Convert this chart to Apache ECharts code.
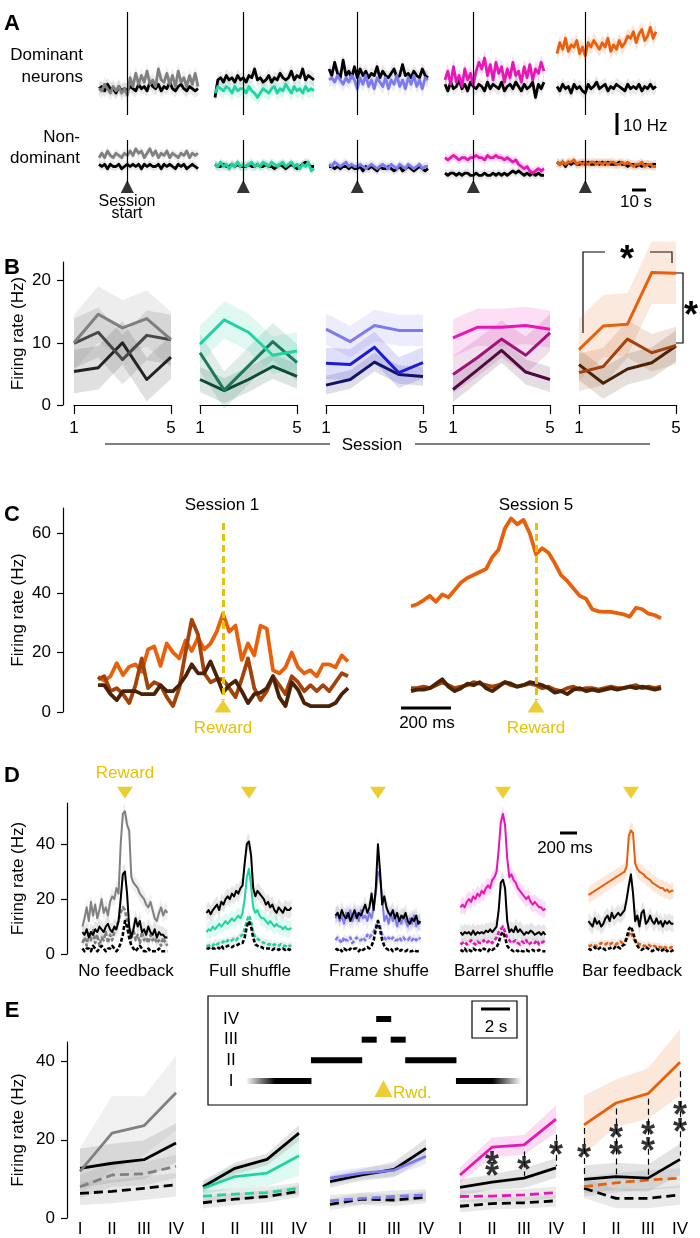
<!DOCTYPE html>
<html>
<head>
<meta charset="utf-8">
<title>Firing rates</title>
<script src="https://cdn.jsdelivr.net/npm/echarts@6/dist/echarts.min.js"></script>
<style>
  html, body { margin: 0; padding: 0; background: #fff; }
  #main { width: 700px; height: 1238px; }
</style>
</head>
<body>
<div id="main"></div>
<script>
// ---------------- data ----------------
// A: traces aligned on session start (s)
var tA = [-20,-18,-16,-14,-12,-10,-8,-6,-4,-2,0,2,4,6,8,10,12,14,16,18,20,22,24,26,28,30,32,34,36,38,40,42,44,46,48,50];
var domColored = [
  [12,11,14,12,10,13,11,13,10,12, 9,17,13,19,14,18,15,20,14,16, 13,21,16,15,19,14,18,13,20,15, 17,13,18,14,19,13],
  [10,13,12,11,13,12,10,13,11,12, 12,10,13,11,10,8,10,12,11,10, 12,13,10,12,11,14,12,10,13,11, 12,10,13,11,12,11],
  [16,17,15,18,16,14,17,15,18,16, 12,17,14,18,13,16,12,17,15,13, 17,12,16,14,18,13,16,12,17,14, 18,13,16,12,17,16],
  [16,20,14,22,15,18,13,21,16,19, 14,20,24,21,26,18,23,16,24,19, 22,15,21,17,24,18,20,15,22,17, 23,16,21,19,24,20],
  [28,33,30,35,29,32,31,34,28,31, 27,33,31,34,32,30,33,31,35,29, 32,30,34,31,33,36,35,38,33,37, 39,34,36,40,35,38]
];
var domBlack = [
  [12,13,11,14,12,12,10,13,11,12, 11,13,12,11,14,12,13,11,15,13, 12,14,11,13,12,15,12,11,13,14, 12,11,13,12,11,12],
  [8,16,17,15,18,16,17,15,18,16, 17,15,18,17,21,16,17,15,16,18, 15,17,16,19,17,16,17,20,16,18, 17,21,16,18,17,16],
  [21,18,24,19,17,25,18,20,17,22, 17,21,18,20,17,19,18,22,17,20, 18,17,19,21,17,18,23,18,19,17, 20,18,17,21,18,17],
  [14,11,15,12,13,16,12,14,11,15, 13,12,14,13,11,15,12,14,13,12, 15,11,13,14,12,15,13,11,14,12, 13,15,8,14,12,15],
  [13,11,14,12,13,10,14,12,13,11, 10,14,12,13,15,12,13,14,11,13, 12,14,13,12,11,14,12,13,12,14, 11,13,12,14,12,13]
];
var nonColored = [
  [10,12,10,13,11,10,12,11,10,12, 11,13,11,14,12,13,10,12,14,11, 13,10,12,11,13,10,12,11,10,12, 11,13,10,12,11,12],
  [7,6,8,6,7,5,7,6,8,6, 7,6,7,8,6,7,6,8,7,6, 8,7,6,7,8,6,7,8,6,7, 5,7,6,8,4,5],
  [7,6,8,7,6,7,8,6,7,6, 6,7,6,5,6,7,6,5,6,7, 6,5,7,6,5,7,6,5,7,6, 5,6,7,5,6,6],
  [10,9,10,11,10,9,10,10,9,10, 10,11,10,10,9,11,10,10,11,10, 10,9,10,9,8,9,7,6,5,6, 4,3,4,5,4,5],
  [8,7,8,7,8,8,9,7,8,7, 8,7,8,8,7,8,7,8,7,8, 8,7,7,8,7,8,7,6,7,7, 8,6,7,7,6,6]
];
var nonBlack = [
  [7,6,7,5,7,6,6,7,5,6, 7,6,7,6,7,5,7,6,7,6, 6,7,5,7,6,7,6,5,7,6, 7,5,6,7,6,5],
  [7,6,6,7,6,6,7,6,7,6, 6,6,7,6,6,7,6,6,7,6, 6,5,6,7,6,5,6,7,6,5, 6,7,8,7,6,6],
  [6,6,5,6,5,6,6,5,6,5, 5,6,4,6,5,6,5,4,6,5, 5,6,5,4,5,6,4,5,6,5, 4,5,6,5,4,5],
  [3,2,3,3,2,3,2,3,3,2, 2,3,2,2,3,2,2,3,2,3, 2,3,2,3,4,3,4,3,2,3, 2,3,2,3,2,2],
  [8,7,8,6,8,7,8,7,7,8, 7,8,7,7,8,7,8,7,8,7, 7,7,8,7,7,6,7,7,6,7, 6,7,7,6,7,7]
];

// B: mean rate per session, three neurons per group
var sessions = [1,2,3,4,5];
var sessTicks = [1,5];
var bTicks = [0,10,20];
var bLines = [
  [[10.0,14.6,12.4,13.9,10.5],[9.9,11.7,7.3,11.2,10.5],[5.4,6.0,10.0,4.1,7.7]],
  [[9.8,13.7,11.7,8.0,8.7],[8.4,2.4,6.3,10.2,6.8],[4.1,2.3,4.1,6.2,4.6]],
  [[12.2,10.2,12.8,12.0,12.0],[6.7,6.5,9.3,5.2,6.8],[3.2,4.1,6.9,4.9,4.6]],
  [[10.8,12.5,12.5,12.8,12.2],[4.9,7.6,10.6,8.0,11.6],[2.5,5.6,8.8,5.3,4.1]],
  [[8.9,12.7,13.0,21.3,21.2],[5.2,6.2,10.6,8.4,9.6],[6.5,3.5,5.8,6.8,9.5]]
];
var bSem = [[4.5,4,3.5],[3,3,2],[2.5,2.5,1.5],[3,3,2],[5,3,2.5]];

// C: reward-aligned rates (ms)
var tC = [-500,-475,-450,-425,-400,-375,-350,-325,-300,-275,-250,-225,-200,-175,-150,-125,-100,-75,-50,-25,0,25,50,75,100,125,150,175,200,225,250,275,300,325,350,375,400,425,450,475,500];
var cTicks = [0,20,40,60];
var c1Orange = [11.8,10.5,12,16.4,12.4,15.2,16,13.5,21,22, 15.5,23,20,18,24,20.5,25,21,23,27, 33,27,29,17.5,23,19,29,28,14,13, 15,20,15,13,14,12,16,16,15,19, 17];
var c1Brown  = [11,12,7,8,6,3,9,18,8,10, 9,5,2,8,20,31,26,13,10,11, 11,8,5,11,18,8,4,7,12,9, 6,12,10,7,9,7,9,7,10,13, 12];
var c1Dark   = [9,9,6,4,7,7,7,6,6,6, 9,7,7,9,12,16,13,13,17,12, 6.5,9,10.5,7,3,6,6.5,8,12,5, 2,10,7.5,3,2,2,2,2,3,6, 8];
var c5Orange = [35.5,36.2,37.5,39,37,39.5,38.5,41,43.5,45, 46,47,48,52,54.5,61.5,65,63,64.5,60, 53,55,53.5,50,46,44,41.5,39,38,34.5, 33.8,33.6,33.6,33.2,32.8,32,35,34.5,33,32.5, 31.5];
var c5Brown  = [8,8,8.5,8,9,10,9,8,8.5,9, 10,9.5,9,8.5,9,10,9,8.5,9,9.5, 9,8,8.5,7.5,7,8,8.5,7.5,8,8, 7.5,8,8.5,8,8,8.5,9,8,8.5,8, 8.5];
var c5Dark   = [7,7.5,7.5,8,9.5,11,8.5,7,8,9.5, 9,10,8,7,8.5,10,9.5,8.5,9,10, 9.5,9,8,6.5,7,6,7.5,8,7,7.5, 7,7.5,8,7.5,8,8.5,8,8.5,8,7.5, 8];

// D: reward-aligned rates per feedback condition (same time bins as C)
var dNames = ['No feedback','Full shuffle','Frame shuffe','Barrel shuffle','Bar feedback'];
var dTicks = [0,20,40];
var dSolidCol = [
  [10,13,17,12,19,14,18,13,16,20, 15,17,14,19,21,20,24,22,40,51, 52,47,45,28,26,25,24,22,21,20, 18,17,19,16,13,12,15,17,14,16, 15],
  [8,9,8.5,10,9,10,11,10,11,12, 11,12,13,12,13,14,13,15,20,28, 31,25,17,15,16,14,13,13,12,11, 12,11,10,11,10,10,9,10,9,9, 9.5],
  [13,15,12,14,11,15,13,16,12,14, 15,12,16,13,14,12,15,13,17,22, 30,28,20,12,14,11,15,12,14,10, 13,11,14,12,10,13,11,14,10,12, 11],
  [17,18,17,19,20,19,21,20,22,21, 23,22,24,25,24,27,28,30,38,48, 51,47,35,28,29,27,26,24,23,22, 21,20,21,19,18,19,18,17,17,16, 16.5],
  [21.5,22,22.5,23,23.5,24,24.5,25,25.5,26, 26.5,27,27.5,28,28.5,29,29.5,30,32,43, 45,44,33,31,30,29.5,29,28,27.5,27, 26,25.5,25,24.5,24,24,23,23.5,22.5,23, 23]
];
var dSolidBlack = [
  [8,7,9,6,8,7,9,8,10,9, 8,10,11,9,8,10,9,12,20,29, 30,22,10,6,9,13,10,12,8,9, 7,10,8,7,9,6,8,7,7,6, 6],
  [15,16,14.5,16,17,18,16,19,18,20, 21,20,22,21,23,22,24,25,33,40, 41,36,24,21,23,22,21,20,18,19, 17,18,16,15,17,16,15,17,16,16, 17],
  [14,15,13,16,14,13,15,12,14,16, 13,15,14,16,18,15,17,22,16,24, 40,30,18,21,17,15,14,16,13,15, 12,14,13,15,12,11,13,12,14,11, 12],
  [8,7,8,7.5,8,7,8.5,7,8,7.5, 8,7.5,8.5,8,9,8,9,10,16,26, 27,24,12,8,9,8,10,8,9,8, 7,8,7.5,8.5,8,7,7.5,8,7,8, 7],
  [12,11,10,13,11,12,10,11,13,14, 12,15,13,14,15,14,15,16,20,25, 29,22,12,14,10,15,16,11,12,14, 12,11,13,11,12,10,12,11,12,11, 11]
];
var dDashCol = [
  [4,6,3,8,5,9,4,7,3,6, 5,8,4,7,5,8,10,12,15,17, 16,12,8,6,9,5,7,4,8,5, 6,4,7,5,6,4,5,3,6,4, 3],
  [3,3,3.5,3,4,3.5,4,4,4.5,4, 5,4.5,5,5.5,5,6,6.5,7,9,12, 14,12,8,6,5.5,5,4.5,4,4,3.5, 3.5,3,3.5,3,3,3.5,3,3,2.5,3, 3],
  [5,6,5,4,6,5,5,6,4,5, 6,5,5,6,5,7,6,7,8,10, 12,10,7,6,5,6,5,6,5,5, 6,5,6,5,5,6,5,6,5,6, 5.5],
  [3.5,4,4.5,3.5,4,5,4,3.5,4.5,4, 4,5,4,4.5,5,4,5,6,8,9, 10,8,6,5,4,4.5,5,4,3.5,4.5, 4,5,3.5,4,4.5,4,5,3.5,4,4.5, 4],
  [3,3,3.5,3,3,3.5,4,3.5,3.5,4, 3.5,4,4,3.5,4,4.5,4,4.5,5.5,7, 8,6,4.5,4,3.5,3.5,3,3,3.5,3, 2.5,3,2.5,2.5,2.5,2,2.5,2,2,2.5, 2]
];
var dDashBlack = [
  [2,1,2,2,1,3,2,1,2,3, 2,1,2,2,3,2,1,2,4,7, 12,10,6,3,2,1,2,3,2,1, 1,2,1,1,1,1,2,1,1,1, 1],
  [2,2,2.5,2,2,2.5,2,3,2,2.5, 3,3,2.5,3,3,3.5,4,4,6,10, 12,10,6,3.5,3,2.5,2.5,2,2,2, 2,1.5,2,2,1.5,2,2,1.5,2,1.5, 2],
  [2,1.5,2,1,2,1.5,1,2,1.5,2, 2,1,2,1.5,2,2.5,2,3,5,9, 12,9,5,3,2,1.5,2,1,1.5,2, 1,1.5,1,1,1.5,1,1,1.5,1,1, 1],
  [1.5,1,2,1,1.5,1,2,1.5,1,1.5, 1,2,1.5,1,2,1.5,2,2.5,4,7, 8,6,3,2,1.5,1,1.5,1,1.5,1, 1,1.5,1,1,1.5,1,1,1.5,1,1, 1],
  [2,1.5,2,2.5,1.5,2,2.5,2,1.5,2, 2,2.5,2,3,2.5,2,3,3.5,6,9, 10,8,5,3,2,1.5,2,2.5,2,1.5, 1,1.5,2,1.5,1,1.5,2,1,1.5,1, 1.5]
];

// E: rate per epoch
var epochs = ['I','II','III','IV'];
var eTicks = [0,20,40];
var eSolidCol   = [[11.9,21.7,23.6,32],[7.6,10.6,11.5,15.9],[10.2,11.5,12.2,15.8],[11,18.1,18.7,25.3],[23.8,29.4,31.8,39.8]];
var eSolidBlack = [[12.7,14,14.9,19.2],[8,12.7,15,21.7],[9.3,11,12.4,17.8],[7.8,9.2,10.2,12.8],[9.9,10.6,10.2,15]];
var eDashCol    = [[8,11,11.3,13.2],[5.6,6.1,6.5,7.6],[4.4,5,5.5,5.9],[5.5,5.6,5.9,6.5],[8,9,9.7,10.2]];
var eDashBlack  = [[6.3,6.8,7.6,8.5],[3.9,4.8,5.5,6.8],[3.5,4.8,4.6,5.3],[3,3.7,3.9,4.4],[7.6,5,5,5.9]];
var eSemCol     = [[6,9.5,7.5,9.5],[1.5,3,3.5,5],[1.5,1.5,1.5,2],[2,2.5,2.5,3.5],[7.5,6,6.5,8.5]];
var eSemBlack   = [[5,5,5,5],[1.5,1.5,1.5,2],[1.5,1.5,2,2.5],[2,2,2.5,2.5],[3.5,3.5,3.5,4]];
var eSemDash    = [3,1.5,1.5,1.5,2.5];
// significance marks: [epoch index, top, bottom] and star positions
var sig4Lines = [[2,17,10.8],[3,21.3,13.2]];
var sig4Stars = [[1,15.4],[1,12.6],[2,14.1],[3,18]];
var sig5Lines = [[0,23,10.5],[1,28,11.2],[2,30.5,11],[3,37.5,16]];
var sig5Stars = [[0,17],[1,22.1],[1,17.9],[2,22.9],[2,19],[3,28.2],[3,23.8]];
// inset: epoch windows around reward (s)
var epochInner = [5, 1.5, 0.5, 0];
var epochOuter = [9.5, 5, 1.5, 0.5];

// ---------------- styles ----------------
var FONT = "'Liberation Sans', Arial, Helvetica, sans-serif";
var YEL = '#e6c200';
var colA = ['#808080', '#1ed4a2', '#7b7bef', '#e815b9', '#e8600c'];
var colB = [
  ['#7f7f7f', '#474747', '#232323'],
  ['#1ed4a2', '#1b7a5c', '#0c4a35'],
  ['#7b7bef', '#1c1cd6', '#12126e'],
  ['#e815b9', '#a0127c', '#4d0a3e'],
  ['#e8600c', '#a3420a', '#4a2306']
];
var axisBlack = { color: '#000', width: 1.2 };

var option = {
  animation: false,
  backgroundColor: '#fff',
  textStyle: { fontFamily: FONT },
  grid: [], xAxis: [], yAxis: [], series: [], graphic: []
};

function addGrid(rect, xa, ya) {
  var i = option.grid.length;
  rect.outerBoundsMode = 'none';
  option.grid.push(rect);
  xa.gridIndex = i;
  ya.gridIndex = i;
  option.xAxis.push(xa);
  option.yAxis.push(ya);
  return i;
}
function hiddenAxis(min, max) {
  return { type: 'value', min: min, max: max, show: false };
}
function shownY(min, max, ticks, offset, nameGap) {
  return {
    type: 'value', min: min, max: max, offset: offset,
    name: 'Firing rate (Hz)', nameLocation: 'middle', nameGap: nameGap,
    nameTextStyle: { fontSize: 17, color: '#000', fontFamily: FONT },
    axisLine: { show: true, onZero: false, lineStyle: axisBlack },
    axisTick: { show: true, length: 6, customValues: ticks, lineStyle: axisBlack },
    axisLabel: { customValues: ticks, fontSize: 17, color: '#000', margin: 12, fontFamily: FONT },
    splitLine: { show: false }
  };
}
function trace(gi, xs, ys, color, width, dash, z) {
  var data = xs ? xs.map(function (x, k) { return [x, ys[k]]; }) : ys;
  return {
    type: 'line', xAxisIndex: gi, yAxisIndex: gi, data: data, symbol: 'none', silent: true, z: z || 3,
    lineStyle: { color: color, width: width, type: dash || 'solid', join: 'round' }
  };
}
function band(gi, xs, ys, half, color, opacity) {
  var lo = [], hi = [];
  for (var k = 0; k < ys.length; k++) {
    var h = Array.isArray(half) ? half[k] : half;
    lo.push(ys[k] - h);
    hi.push(ys[k] + h);
  }
  return {
    type: 'custom', xAxisIndex: gi, yAxisIndex: gi, silent: true, z: 1, data: [[xs[0], ys[0]]],
    renderItem: function (params, api) {
      var pts = [];
      for (var i = 0; i < xs.length; i++) pts.push(api.coord([xs[i], hi[i]]));
      for (var j = xs.length - 1; j >= 0; j--) pts.push(api.coord([xs[j], lo[j]]));
      return { type: 'polygon', shape: { points: pts }, style: { fill: color, opacity: opacity } };
    }
  };
}
function marker(gi, pt, color, size, rotate) {
  return {
    type: 'scatter', xAxisIndex: gi, yAxisIndex: gi, data: [pt], symbol: 'triangle',
    symbolSize: size, symbolRotate: rotate || 0, itemStyle: { color: color }, silent: true, z: 6, clip: false
  };
}
function gText(s, x, y, extra) {
  var st = { text: s, fontSize: 17, fontFamily: FONT, fill: '#000', align: 'center', verticalAlign: 'middle' };
  for (var key in (extra || {})) st[key] = extra[key];
  option.graphic.push({ type: 'text', x: x, y: y, silent: true, style: st });
}
function gLine(x1, y1, x2, y2, w) {
  option.graphic.push({ type: 'line', silent: true, shape: { x1: x1, y1: y1, x2: x2, y2: y2 }, style: { stroke: '#000', lineWidth: w || 1.2 } });
}
function gPoly(pts, w) {
  option.graphic.push({ type: 'polyline', silent: true, shape: { points: pts }, style: { stroke: '#000', lineWidth: w || 1.2, fill: null } });
}

// ---------------- panel A ----------------
var aLeft = [99, 215, 329, 445, 557];
for (var p = 0; p < 5; p++) {
  var ga = addGrid({ left: aLeft[p], top: 12, width: 99, height: 103 }, hiddenAxis(-20, 50), hiddenAxis(0, 47));
  option.series.push(band(ga, tA, domBlack[p], 3, '#9a9a9a', 0.22));
  option.series.push(band(ga, tA, domColored[p], 3.5, p === 0 ? '#9a9a9a' : colA[p], 0.16));
  var sa = trace(ga, tA, domBlack[p], '#000', 2.8);
  sa.markLine = { silent: true, symbol: 'none', label: { show: false }, lineStyle: { color: '#000', width: 1.2, type: 'solid' }, data: [{ xAxis: 0 }] };
  option.series.push(sa);
  option.series.push(trace(ga, tA, domColored[p], colA[p], 2.8));

  var gn = addGrid({ left: aLeft[p], top: 140, width: 99, height: 53 }, hiddenAxis(-20, 50), hiddenAxis(-6, 18));
  option.series.push(band(gn, tA, nonBlack[p], 2, '#9a9a9a', 0.22));
  option.series.push(band(gn, tA, nonColored[p], 2, p === 0 ? '#9a9a9a' : colA[p], 0.16));
  var sn = trace(gn, tA, nonBlack[p], '#000', 2.8);
  sn.markLine = { silent: true, symbol: 'none', label: { show: false }, lineStyle: { color: '#000', width: 1.2, type: 'solid' },
    data: [[{ coord: [0, 18] }, { coord: [0, -1.5] }]] };
  option.series.push(sn);
  option.series.push(trace(gn, tA, nonColored[p], colA[p], 2.8));
  option.series.push(marker(gn, [0, -3], '#000', [13, 13]));
}

// ---------------- panel B ----------------
var bLeft = [74, 200, 326, 453, 579];
for (p = 0; p < 5; p++) {
  var gb = addGrid({ left: bLeft[p], top: 262, width: 97, height: 143 },
    {
      type: 'value', min: 1, max: 5,
      axisLine: { show: true, onZero: false, lineStyle: axisBlack },
      axisTick: { show: true, length: 9, customValues: sessTicks, lineStyle: axisBlack },
      axisLabel: { customValues: sessTicks, fontSize: 17, color: '#000', margin: 15, fontFamily: FONT },
      splitLine: { show: false }
    },
    p === 0 ? shownY(0, 23, bTicks, 11, 36) : hiddenAxis(0, 23));
  for (var l = 2; l >= 0; l--) {
    option.series.push(band(gb, sessions, bLines[p][l], bSem[p][l], colB[p][l], 0.14));
  }
  for (l = 2; l >= 0; l--) {
    option.series.push(trace(gb, sessions, bLines[p][l], colB[p][l], 3));
  }
}

// ---------------- panel C ----------------
var cLeft = [93, 406];
var cSets = [[c1Orange, c1Brown, c1Dark], [c5Orange, c5Brown, c5Dark]];
var cCols = ['#e8600c', '#a3420a', '#4a2306'];
for (p = 0; p < 2; p++) {
  var gc = addGrid({ left: cLeft[p], top: 508, width: 262, height: 204 }, hiddenAxis(-520, 528),
    p === 0 ? shownY(0, 68.5, cTicks, 30, 36) : hiddenAxis(0, 68.5));
  for (l = 0; l < 3; l++) {
    var sc = trace(gc, tC, cSets[p][l], cCols[l], 3.8, 'solid', 3 + l);
    if (l === 0) {
      sc.markLine = { silent: true, symbol: 'none', label: { show: false }, z: 8,
        lineStyle: { color: YEL, width: 3, type: [7, 4] },
        data: [[{ coord: [0, 63.5] }, { coord: [0, 4] }]] };
    }
    option.series.push(sc);
  }
  option.series.push(marker(gc, [0, 2], YEL, [17, 13]));
}

// ---------------- panel D ----------------
var dLeft = [82, 206, 335, 460, 588];
for (p = 0; p < 5; p++) {
  var gd = addGrid({ left: dLeft[p], top: 803, width: 88, height: 151 },
    {
      type: 'value', min: -505, max: 530,
      axisLine: { show: false }, axisTick: { show: false }, axisLabel: { show: false }, splitLine: { show: false },
      name: dNames[p], nameLocation: 'middle', nameGap: 9,
      nameTextStyle: { fontSize: 17, color: '#000', fontFamily: FONT }
    },
    p === 0 ? shownY(0, 55, dTicks, 15, 40) : hiddenAxis(0, 55));
  var cc = p === 0 ? '#808080' : colA[p];
  option.series.push(band(gd, tC, dSolidBlack[p], 3, '#9a9a9a', 0.25));
  option.series.push(band(gd, tC, dSolidCol[p], 3, p === 0 ? '#9a9a9a' : colA[p], 0.15));
  option.series.push(band(gd, tC, dDashCol[p], 1.5, '#9a9a9a', 0.18));
  option.series.push(trace(gd, tC, dDashCol[p], cc, 2.6, [4, 2], 3));
  option.series.push(trace(gd, tC, dDashBlack[p], '#000', 2.6, [4, 2], 4));
  option.series.push(trace(gd, tC, dSolidCol[p], cc, 2, 'solid', 5));
  option.series.push(trace(gd, tC, dSolidBlack[p], '#000', 2, 'solid', 5));
  option.series.push(marker(gd, [0, 58.7], YEL, [16, 12], 180));
}

// ---------------- panel E ----------------
var eLeft = [80, 203, 330, 460, 584];
var eIdx = [0, 1, 2, 3];
for (p = 0; p < 5; p++) {
  var ge = addGrid({ left: eLeft[p], top: 1042, width: 96, height: 176 },
    {
      type: 'category', data: epochs, boundaryGap: false,
      axisLine: { show: false }, axisTick: { show: false },
      axisLabel: { fontSize: 17, color: '#000', margin: 3, fontFamily: FONT }
    },
    p === 0 ? shownY(0, 45, eTicks, 13, 40) : hiddenAxis(0, 45));
  var ec = p === 0 ? '#808080' : colA[p];
  option.series.push(band(ge, eIdx, eSolidCol[p], eSemCol[p], p === 0 ? '#9a9a9a' : colA[p], 0.15));
  option.series.push(band(ge, eIdx, eSolidBlack[p], eSemBlack[p], '#9a9a9a', 0.28));
  option.series.push(band(ge, eIdx, eDashCol[p], eSemDash[p], '#9a9a9a', 0.22));
  option.series.push(band(ge, eIdx, eDashBlack[p], eSemDash[p], '#9a9a9a', 0.22));
  option.series.push(trace(ge, null, eDashBlack[p], '#000', 2.8, [9, 5], 3));
  option.series.push(trace(ge, null, eDashCol[p], ec, 2.8, [9, 5], 3));
  option.series.push(trace(ge, null, eSolidBlack[p], '#000', 2.8, 'solid', 4));
  option.series.push(trace(ge, null, eSolidCol[p], ec, 2.8, 'solid', 4));
  var sigL = p === 3 ? sig4Lines : (p === 4 ? sig5Lines : null);
  var sigS = p === 3 ? sig4Stars : (p === 4 ? sig5Stars : null);
  if (sigS) {
    option.series.push({
      type: 'scatter', xAxisIndex: ge, yAxisIndex: ge, silent: true, z: 7,
      data: sigS.map(function (s) { return [epochs[s[0]], s[1]]; }),
      symbolSize: 1, itemStyle: { color: 'rgba(0,0,0,0)' },
      label: { show: true, position: 'inside', formatter: '*', fontSize: 36, fontWeight: 'bold', color: '#000', offset: [0, 9], fontFamily: FONT },
      markLine: {
        silent: true, symbol: 'none', label: { show: false },
        lineStyle: { color: '#000', width: 1.2, type: [6, 4] },
        data: sigL.map(function (s) { return [{ coord: [epochs[s[0]], s[1]] }, { coord: [epochs[s[0]], s[2]] }]; })
      }
    });
  }
}

// inset with epoch windows
var gi = addGrid({ left: 208, top: 996, width: 319, height: 109, show: true, borderColor: '#000', borderWidth: 1.2, backgroundColor: '#fff' },
  hiddenAxis(-12.1, 9.9), hiddenAxis(-0.161, 5.113));
option.series.push({
  type: 'custom', xAxisIndex: gi, yAxisIndex: gi, silent: true, z: 4,
  data: epochs.map(function (n, k) { return [0, k + 1]; }),
  renderItem: function (params, api) {
    var k = params.dataIndex;
    var yc = api.coord([0, k + 1])[1];
    var h = 6;
    var kids = [];
    [[-epochOuter[k], -epochInner[k]], [epochInner[k], epochOuter[k]]].forEach(function (seg, side) {
      var x1 = api.coord([seg[0], 0])[0];
      var x2 = api.coord([seg[1], 0])[0];
      var fill = '#000';
      if (k === 0) {
        fill = new echarts.graphic.LinearGradient(0, 0, 1, 0, side === 0
          ? [{ offset: 0, color: 'rgba(0,0,0,0)' }, { offset: 0.45, color: '#000' }]
          : [{ offset: 0.55, color: '#000' }, { offset: 1, color: 'rgba(0,0,0,0)' }]);
      }
      kids.push({ type: 'rect', shape: { x: x1, y: yc - h / 2, width: x2 - x1 + 0.5, height: h }, style: { fill: fill } });
    });
    return { type: 'group', children: kids };
  }
});
option.series.push(marker(gi, [0, 0.64], YEL, [18, 17]));

// ---------------- text & annotations ----------------
var letters = [['A', 24], ['B', 268], ['C', 515], ['D', 776], ['E', 1011]];
letters.forEach(function (L) { gText(L[0], 12, L[1], { fontSize: 22, fontWeight: 'bold' }); });

// A
gText('Dominant', 83, 55, { align: 'right' });
gText('neurons', 83, 77, { align: 'right' });
gText('Non-', 80, 137, { align: 'right' });
gText('dominant', 80, 158, { align: 'right' });
gText('Session', 127, 202, { fontSize: 16 });
gText('start', 127, 214, { fontSize: 16 });
gLine(617, 113, 617, 135, 3);
gText('10 Hz', 623, 126, { align: 'left' });
gLine(632, 190, 646, 190, 3);
gText('10 s', 636, 202);

// B
gText('Session', 372, 445);
gLine(105, 444, 330, 444);
gLine(415, 444, 650, 444);
gPoly([[583, 333], [583, 252], [605, 252]]);
gPoly([[650, 252], [672, 252], [672, 263]]);
gText('*', 627, 261, { fontSize: 36, fontWeight: 'bold' });
gPoly([[676, 273], [683, 273], [683, 343], [676, 343]]);
gText('*', 691, 317, { fontSize: 36, fontWeight: 'bold' });

// C
gText('Session 1', 222, 505);
gText('Session 5', 536, 505);
gText('Reward', 223, 728, { fill: YEL });
gText('Reward', 536, 728, { fill: YEL });
gLine(401, 708, 451, 708, 3);
gText('200 ms', 427, 723);

// D
gText('Reward', 125, 773, { fill: YEL });
gLine(560, 833, 577, 833, 3);
gText('200 ms', 565, 848);

// E inset labels
gText('IV', 231, 1019);
gText('III', 231, 1039);
gText('II', 231, 1060);
gText('I', 231, 1081);
gText('Rwd.', 393, 1093, { fill: YEL, align: 'left' });
option.graphic.push({ type: 'rect', silent: true, shape: { x: 472, y: 1001, width: 45, height: 37 }, style: { stroke: '#000', lineWidth: 1.2, fill: null } });
gLine(481, 1009, 510, 1009, 3);
gText('2 s', 496, 1027);

var chart = echarts.init(document.getElementById('main'), null, { renderer: 'canvas' });
chart.setOption(option);
</script>
</body>
</html>
